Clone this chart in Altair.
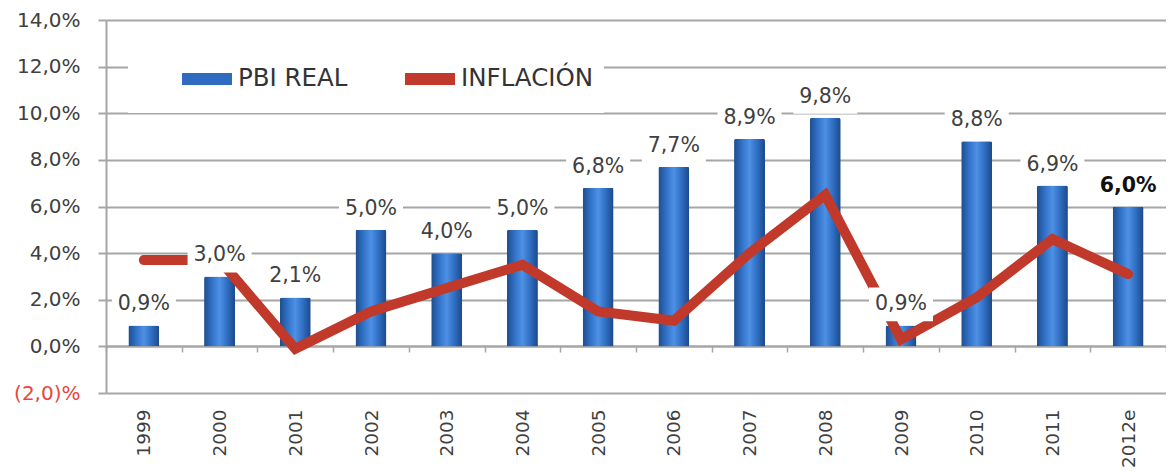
import altair as alt
import pandas as pd

# ---- data ----
years = ["1999", "2000", "2001", "2002", "2003", "2004", "2005", "2006",
         "2007", "2008", "2009", "2010", "2011", "2012e"]
pbi = [0.9, 3.0, 2.1, 5.0, 4.0, 5.0, 6.8, 7.7, 8.9, 9.8, 0.9, 8.8, 6.9, 6.0]
pbi_labels = ["0,9%", "3,0%", "2,1%", "5,0%", "4,0%", "5,0%", "6,8%", "7,7%",
              "8,9%", "9,8%", "0,9%", "8,8%", "6,9%", "6,0%"]
inflation = [3.7, 3.7, -0.1, 1.5, 2.5, 3.5, 1.5, 1.1, 4.0, 6.5, 0.3, 2.1, 4.6, 3.1]
series_names = ["PBI REAL", "INFLACIÓN"]
y_ticks = [-2, 0, 2, 4, 6, 8, 10, 12, 14]
y_tick_labels = ["(2,0)%", "0,0%", "2,0%", "4,0%", "6,0%", "8,0%", "10,0%", "12,0%", "14,0%"]
highlight_year = "2012e"

df = pd.DataFrame({
    "year": years,
    "pbi": pbi,
    "label": pbi_labels,
    "inflation": inflation,
    "series": series_names[1],
})

FONT = "DejaVu Sans"
GRID = "#a6a6a6"
TEXT = "#404040"
BLUE = "#2f6cbf"
RED = "#c0392b"

label_expr = " : ".join(
    f"datum.value == {v} ? '{l}'" for v, l in zip(y_ticks, y_tick_labels)
) + " : ''"

x_enc = alt.X(
    "year:N",
    sort=years,
    title=None,
    scale=alt.Scale(paddingInner=0, paddingOuter=0),
    axis=alt.Axis(
        offset=-47,
        domain=True, domainColor=GRID, domainWidth=2,
        ticks=True, tickBand="extent", tickSize=6, tickColor=GRID, tickWidth=1.5,
        grid=False,
        labelAngle=-90, labelFont=FONT, labelFontSize=18.5, labelColor=TEXT,
        labelPadding=57,
    ),
)

y_axis = alt.Axis(
    values=y_ticks,
    labelExpr=label_expr,
    labelColor={"condition": {"test": "datum.value < 0", "value": "#e8453c"}, "value": TEXT},
    labelFont=FONT, labelFontSize=20,
    labelPadding=18,
    grid=True, gridColor=GRID, gridWidth=2,
    domain=True, domainColor=GRID, domainWidth=2,
    ticks=True, tickSize=8, tickColor=GRID, tickWidth=2,
    title=None,
)
y_scale = alt.Scale(domain=[-2, 14], nice=False, zero=False)


def y_of(field):
    return alt.Y(f"{field}:Q", scale=y_scale, axis=y_axis, title=None)


gradient = alt.Gradient(
    gradient="linear", x1=0, x2=1, y1=0, y2=0,
    stops=[
        alt.GradientStop(offset=0, color="#1d4d8e"),
        alt.GradientStop(offset=0.3, color="#3678cf"),
        alt.GradientStop(offset=0.5, color="#4d90e4"),
        alt.GradientStop(offset=0.75, color="#2f6ec2"),
        alt.GradientStop(offset=1, color="#1c4888"),
    ],
)

base = alt.Chart(df)

bars = base.mark_bar(width=31, fill=gradient, cornerRadiusTopLeft=2,
                     cornerRadiusTopRight=2).encode(x=x_enc, y=y_of("pbi"))

line = base.mark_line(strokeWidth=10, strokeCap="round", strokeJoin="miter").encode(
    x=x_enc,
    y=y_of("inflation"),
    color=alt.Color(
        "series:N",
        scale=alt.Scale(domain=series_names, range=[BLUE, RED]),
        legend=alt.Legend(
            title=None,
            orient="none", legendX=22, legendY=18,
            direction="horizontal",
            symbolType="stroke", symbolSize=2500, symbolStrokeWidth=12,
            labelFont=FONT, labelFontSize=24.5, labelColor="#333333",
            labelOffset=0, labelBaseline="middle",
            fillColor="white", padding=10,
            symbolOffset=38, columnPadding=13,
        ),
    ),
)

boxes = base.mark_point(
    shape="M-1,-0.53H1V0.53H-1Z", size=4096, filled=True, fill="white",
    opacity=1, strokeWidth=0, yOffset=-21,
).encode(x=x_enc, y=y_of("pbi"))

labels = base.transform_filter(alt.datum.year != highlight_year).mark_text(
    font=FONT, fontSize=20.5, baseline="middle", align="center", yOffset=-21, color=TEXT,
).encode(x=x_enc, y=y_of("pbi"), text="label:N")

labels_bold = base.transform_filter(alt.datum.year == highlight_year).mark_text(
    font=FONT, fontSize=20.5, fontWeight="bold", baseline="middle", align="center",
    yOffset=-21, color="#111111",
).encode(x=x_enc, y=y_of("pbi"), text="label:N")

chart = alt.layer(bars, line, boxes, labels, labels_bold).properties(
    width=1060,
    height=373,
    autosize=alt.AutoSizeParams(type="none"),
    padding={"left": 98, "top": 12, "right": 0, "bottom": 76},
    background="white",
).configure_view(stroke=None)

chart.save("out.html", embed_options={"renderer": "svg", "actions": False})
